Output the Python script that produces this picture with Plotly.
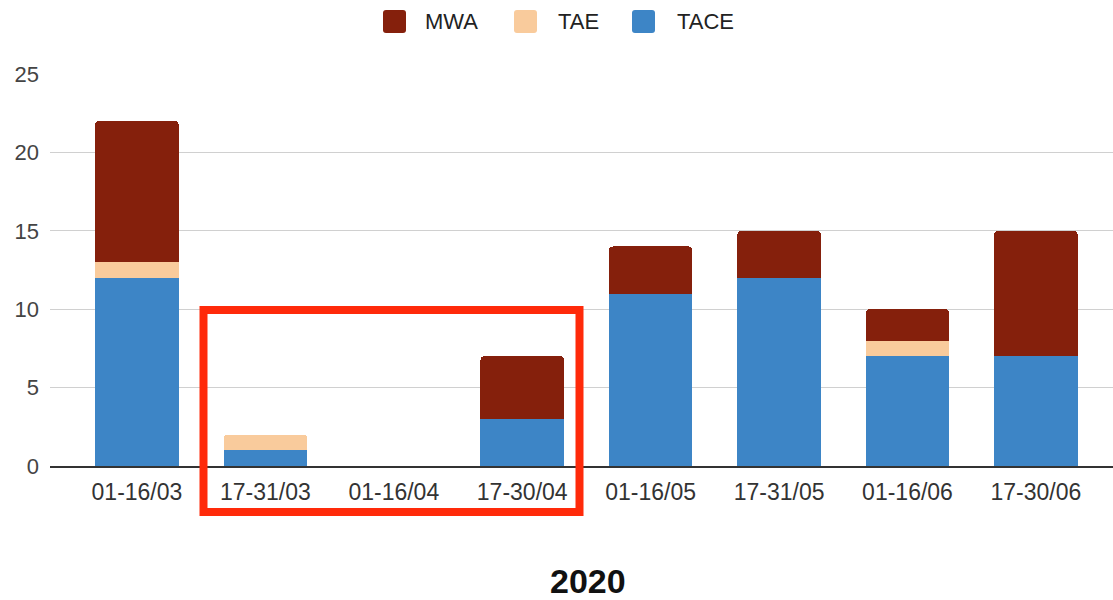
import plotly.graph_objects as go

# Procedures per half-month period, 2020
periods = ["01-16/03", "17-31/03", "01-16/04", "17-30/04",
           "01-16/05", "17-31/05", "01-16/06", "17-30/06"]
tace = [12, 1, 0, 3, 11, 12, 7, 7]
tae = [1, 1, 0, 0, 0, 0, 1, 0]
mwa = [9, 0, 0, 4, 3, 3, 2, 8]

series_names = ["MWA", "TAE", "TACE"]
series_colors = {"TACE": "#3d85c6", "TAE": "#f9cb9c", "MWA": "#85200c"}

FONT = "Liberation Sans, Arial, sans-serif"
W, H = 1113, 600
ML, MR, MT, MB = 50, 0, 74, 134
PW, PH = W - ML - MR, H - MT - MB


def px_x(px):
    return (px - ML) / PW


def px_y(py):
    return (H - MB - py) / PH


fig = go.Figure()
for name, vals in (("TACE", tace), ("TAE", tae), ("MWA", mwa)):
    fig.add_trace(go.Bar(
        x=periods, y=vals, name=name, width=0.65,
        marker=dict(color=series_colors[name], line=dict(width=0)),
        showlegend=False,
    ))

shapes = []
annotations = []

# Custom legend: rounded swatches with labels across the top
legend_items = [("MWA", 383, 423), ("TAE", 514, 556), ("TACE", 632, 675)]
for name, sx, tx in legend_items:
    s, r = 23, 3
    x0, x1, y0, y1 = sx, sx + s, 10, 10 + s
    path = (f"M {px_x(x0 + r)},{px_y(y0)} L {px_x(x1 - r)},{px_y(y0)} "
            f"Q {px_x(x1)},{px_y(y0)} {px_x(x1)},{px_y(y0 + r)} "
            f"L {px_x(x1)},{px_y(y1 - r)} Q {px_x(x1)},{px_y(y1)} {px_x(x1 - r)},{px_y(y1)} "
            f"L {px_x(x0 + r)},{px_y(y1)} Q {px_x(x0)},{px_y(y1)} {px_x(x0)},{px_y(y1 - r)} "
            f"L {px_x(x0)},{px_y(y0 + r)} Q {px_x(x0)},{px_y(y0)} {px_x(x0 + r)},{px_y(y0)} Z")
    shapes.append(dict(type="path", xref="paper", yref="paper", path=path,
                       fillcolor=series_colors[name], line=dict(width=0)))
    annotations.append(dict(text=name, xref="paper", yref="paper",
                            x=px_x(tx), y=px_y(21.5), xanchor="left", yanchor="middle",
                            showarrow=False, font=dict(family=FONT, size=22, color="#222222")))

# Highlight box around the spring periods
shapes.append(dict(type="rect", xref="paper", yref="paper",
                   x0=px_x(203.5), x1=px_x(579.5), y0=px_y(512), y1=px_y(310),
                   line=dict(color="#ff2a0a", width=8), fillcolor="rgba(0,0,0,0)"))

annotations.append(dict(text="<b>2020</b>", xref="paper", yref="paper",
                        x=px_x(588), y=px_y(581), xanchor="center", yanchor="middle",
                        showarrow=False, font=dict(family=FONT, size=34, color="#111111")))

fig.update_layout(
    width=W, height=H,
    margin=dict(l=ML, r=MR, t=MT, b=MB, pad=0),
    paper_bgcolor="white", plot_bgcolor="white",
    barmode="stack", barcornerradius=4,
    shapes=shapes, annotations=annotations,
    showlegend=False,
    font=dict(family=FONT, size=22, color="#444444"),
    xaxis=dict(type="category", range=[-0.677, 7.6], showgrid=False,
               showline=True, linecolor="#333333", linewidth=1.5,
               ticks="", tickfont=dict(family=FONT, size=23, color="#333333"),
               ticklabelstandoff=5),
    yaxis=dict(range=[0, 25], tickvals=[0, 5, 10, 15, 20, 25],
               showgrid=True, gridcolor="#d0d0d0", gridwidth=1,
               zeroline=False, showline=False, ticks="",
               tickfont=dict(family=FONT, size=22, color="#444444"),
               ticklabelstandoff=10),
)

fig.write_html("out.html")
